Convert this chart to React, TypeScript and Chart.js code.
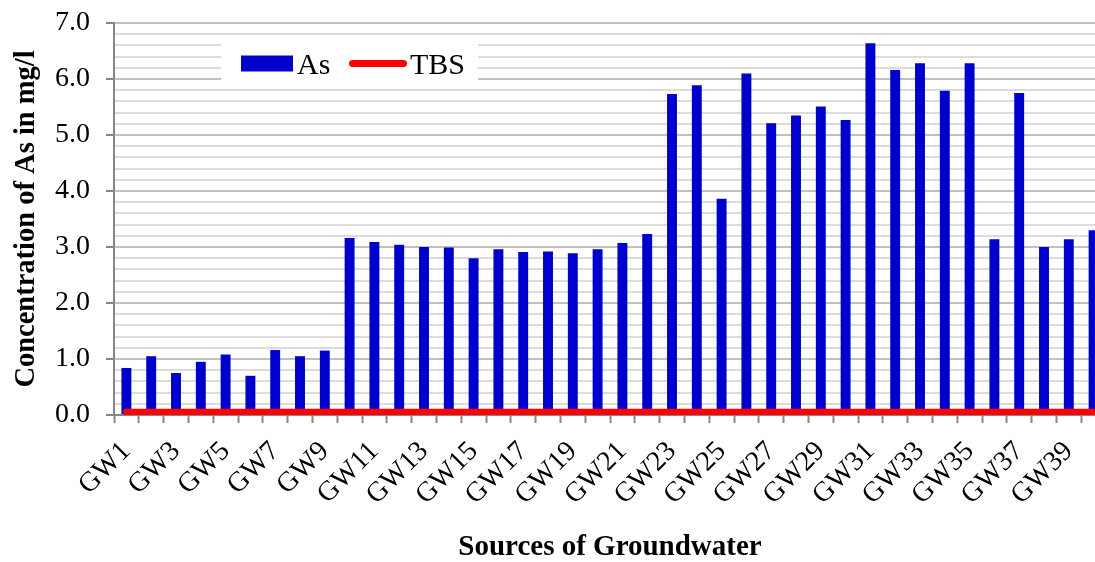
import React, { useEffect, useRef } from 'react';
import { Chart, registerables } from 'chart.js';

Chart.register(...registerables);

const categories = [
  'GW1', 'GW2', 'GW3', 'GW4', 'GW5', 'GW6', 'GW7', 'GW8', 'GW9', 'GW10',
  'GW11', 'GW12', 'GW13', 'GW14', 'GW15', 'GW16', 'GW17', 'GW18', 'GW19', 'GW20',
  'GW21', 'GW22', 'GW23', 'GW24', 'GW25', 'GW26', 'GW27', 'GW28', 'GW29', 'GW30',
  'GW31', 'GW32', 'GW33', 'GW34', 'GW35', 'GW36', 'GW37', 'GW38', 'GW39', 'GW40',
];

const asValues = [
  0.84, 1.05, 0.75, 0.95, 1.08, 0.70, 1.16, 1.05, 1.15, 3.16,
  3.09, 3.04, 3.00, 2.99, 2.80, 2.96, 2.91, 2.92, 2.89, 2.96,
  3.07, 3.23, 5.73, 5.89, 3.86, 6.10, 5.21, 5.35, 5.51, 5.27,
  6.64, 6.16, 6.28, 5.79, 6.28, 3.14, 5.75, 3.00, 3.14, 3.30,
];

const tbsValues = [
  0.05, 0.05, 0.05, 0.05, 0.05, 0.05, 0.05, 0.05, 0.05, 0.05,
  0.05, 0.05, 0.05, 0.05, 0.05, 0.05, 0.05, 0.05, 0.05, 0.05,
  0.05, 0.05, 0.05, 0.05, 0.05, 0.05, 0.05, 0.05, 0.05, 0.05,
  0.05, 0.05, 0.05, 0.05, 0.05, 0.05, 0.05, 0.05, 0.05, 0.05,
];

const seriesNames = ['As', 'TBS'];
const yTitle = 'Concentration of As in mg/l';
const xTitle = 'Sources of Groundwater';

const SERIF = "'Liberation Serif', 'Times New Roman', serif";
const BLUE = '#0000CC';
const RED = '#FF0000';
const AXIS = '#868686';

const isMajor = (v: number) => Math.abs(v - Math.round(v)) < 1e-6;

const insideLegend = {
  id: 'insideLegend',
  beforeDatasetsDraw(chart: any) {
    const { ctx, chartArea } = chart;
    const ds = chart.data.datasets;
    const x0 = chartArea.left + 107;
    const y0 = chartArea.top + 20;
    ctx.save();
    ctx.fillStyle = '#ffffff';
    ctx.fillRect(x0, y0, 257, 37);
    const cy = y0 + 20.5;
    ctx.fillStyle = ds[0].backgroundColor;
    ctx.fillRect(x0 + 20, cy - 8, 52, 16);
    ctx.font = `30px ${SERIF}`;
    ctx.fillStyle = '#000000';
    ctx.textBaseline = 'alphabetic';
    ctx.textAlign = 'left';
    ctx.fillText(ds[0].label, x0 + 76, cy + 10);
    ctx.strokeStyle = ds[1].borderColor;
    ctx.lineWidth = 7;
    ctx.lineCap = 'round';
    ctx.beginPath();
    ctx.moveTo(x0 + 131.5, cy);
    ctx.lineTo(x0 + 182.5, cy);
    ctx.stroke();
    ctx.fillText(ds[1].label, x0 + 189, cy + 10);
    ctx.restore();
  },
};

export default function App() {
  const ref = useRef<HTMLCanvasElement | null>(null);

  useEffect(() => {
    if (!ref.current) return;
    const chart = new Chart(ref.current, {
      type: 'bar',
      data: {
        labels: categories,
        datasets: [
          {
            type: 'bar',
            label: seriesNames[0],
            data: asValues,
            backgroundColor: BLUE,
            borderWidth: 0,
            barPercentage: 0.4,
            categoryPercentage: 1,
            order: 1,
          },
          {
            type: 'line',
            label: seriesNames[1],
            data: tbsValues,
            borderColor: RED,
            backgroundColor: RED,
            borderWidth: 7,
            borderCapStyle: 'round',
            pointRadius: 0,
            fill: false,
            order: 0,
          } as any,
        ],
      },
      options: {
        responsive: false,
        animation: false,
        devicePixelRatio: 1,
        layout: { padding: { top: 23, left: 0, right: 0, bottom: 0 } },
        plugins: {
          legend: { display: false },
          tooltip: { enabled: false },
        },
        scales: {
          x: {
            offset: true,
            ticks: {
              autoSkip: false,
              minRotation: 45,
              maxRotation: 45,
              padding: 22,
              color: '#000',
              font: { family: SERIF, size: 28, lineHeight: 0.2 },
              callback: function (this: any, v: any, i: number) {
                return i % 2 === 0 ? this.getLabelForValue(v) : '';
              },
            },
            grid: {
              display: true,
              drawOnChartArea: false,
              offset: true,
              tickLength: 8,
              tickColor: AXIS,
              tickWidth: 2,
            },
            border: { color: AXIS, width: 2 },
            title: {
              display: true,
              text: xTitle,
              color: '#000',
              font: { family: SERIF, size: 29, weight: 'bold' },
              padding: { top: 0, bottom: -3 },
            },
            afterFit: (s: any) => {
              s.height = 147;
              s.paddingLeft = 0;
              s.paddingRight = 0;
            },
          },
          y: {
            min: 0,
            max: 7,
            ticks: {
              stepSize: 0.2,
              maxTicksLimit: 100,
              autoSkip: false,
              padding: 16,
              color: '#000',
              font: { family: SERIF, size: 28 },
              callback: (v: any) => (isMajor(Number(v)) ? Number(v).toFixed(1) : ''),
            },
            grid: {
              color: (c: any) => (isMajor(c.tick.value) ? '#c0c0c0' : '#dcdcdc'),
              lineWidth: 2,
              tickLength: 8,
              tickWidth: 2,
              tickColor: (c: any) => (isMajor(c.tick.value) ? AXIS : 'rgba(0,0,0,0)'),
            },
            border: { color: AXIS, width: 2 },
            title: {
              display: true,
              text: yTitle,
              color: '#000',
              font: { family: SERIF, size: 28.5, weight: 'bold' },
              padding: { top: 10, bottom: 0 },
            },
            afterFit: (s: any) => {
              s.width = 114;
              s.paddingTop = 0;
              s.paddingBottom = 0;
            },
          },
        },
      },
      plugins: [insideLegend],
    });
    return () => chart.destroy();
  }, []);

  return (
    <div
      style={{
        position: 'absolute',
        left: 0,
        top: 0,
        width: 1095,
        height: 562,
        overflow: 'hidden',
        background: '#fff',
      }}
    >
      <canvas ref={ref} width={1106} height={562} style={{ display: 'block' }} />
    </div>
  );
}
